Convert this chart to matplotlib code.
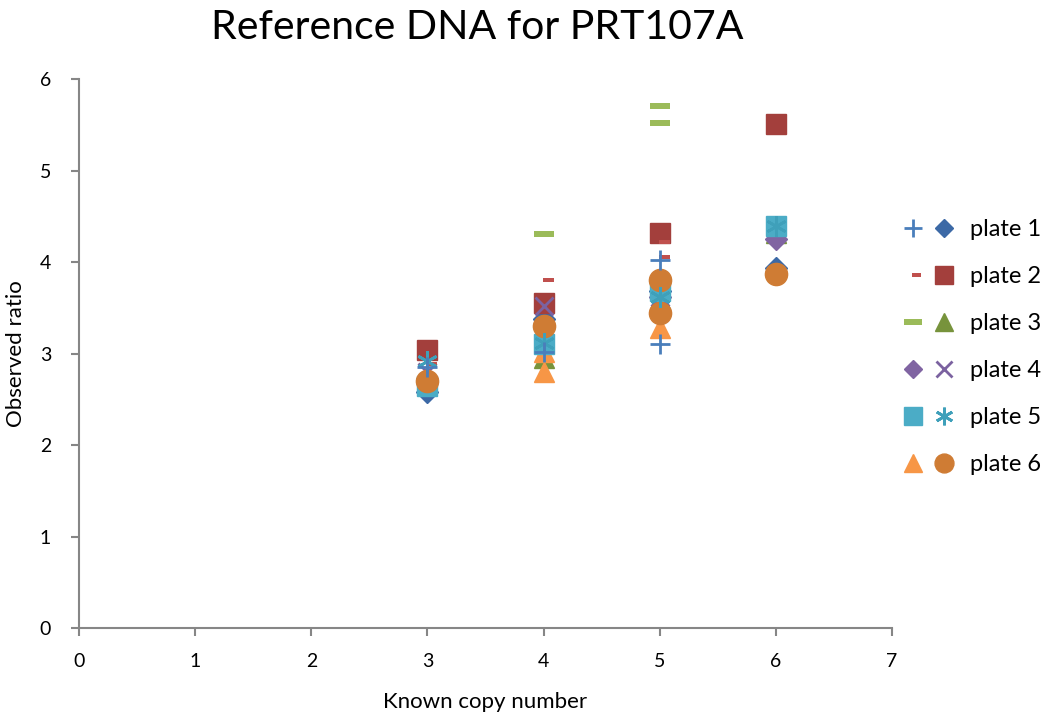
import matplotlib.pyplot as plt
from matplotlib.path import Path
from matplotlib.legend_handler import HandlerTuple

plt.rcParams['font.family'] = ['Lato', 'DejaVu Sans']

# known copy number (x) and observed ratio (y), two series per plate
p1a_x = [3, 4, 5, 5]
p1a_y = [2.85, 3.02, 4.02, 3.10]
p1b_x = [3, 4, 5, 6]
p1b_y = [2.58, 3.38, 3.68, 3.93]

p2a_x = [3, 4, 5, 5]
p2a_y = [2.88, 3.80, 4.22, 4.05]
p2b_x = [3, 4, 5, 6]
p2b_y = [3.04, 3.55, 4.32, 5.51]

p3a_x = [4, 5, 5]
p3a_y = [4.31, 5.70, 5.52]
p3b_x = [3, 4, 5, 6]
p3b_y = [2.70, 2.95, 3.60, 4.32]

p4a_x = [3, 4, 5, 6]
p4a_y = [2.72, 3.30, 3.62, 4.25]
p4b_x = [3, 4, 5, 6]
p4b_y = [2.80, 3.52, 3.62, 4.38]

p5a_x = [3, 4, 5, 6]
p5a_y = [2.65, 3.10, 3.68, 4.39]
p5b_x = [3, 4, 5, 6]
p5b_y = [2.92, 3.12, 3.62, 4.39]

p6a_x = [3, 4, 4, 5]
p6a_y = [2.72, 2.80, 3.02, 3.28]
p6b_x = [3, 4, 5, 5, 6]
p6b_y = [2.70, 3.30, 3.80, 3.44, 3.87]

labels = ['plate 1', 'plate 2', 'plate 3', 'plate 4', 'plate 5', 'plate 6']

# excel-style dash markers
short_dash = Path([(-0.1, -0.25), (1.0, -0.25), (1.0, 0.25), (-0.1, 0.25), (-0.1, -0.25)],
                  [Path.MOVETO, Path.LINETO, Path.LINETO, Path.LINETO, Path.CLOSEPOLY])
long_dash = Path([(-1, -0.3), (1, -0.3), (1, 0.3), (-1, 0.3), (-1, -0.3)],
                 [Path.MOVETO, Path.LINETO, Path.LINETO, Path.LINETO, Path.CLOSEPOLY])

fig = plt.figure(figsize=(10.56, 7.17), dpi=100)
ax = fig.add_axes([0.0748, 0.1241, 0.7699, 0.7657])

b1, = ax.plot(p1b_x, p1b_y, ls='none', marker='D', ms=11, color='#3C69A6', mec='#3C69A6')
b2, = ax.plot(p2b_x, p2b_y, ls='none', marker='s', ms=15, color='#A33F3C', mec='#A33F3C')
b3, = ax.plot(p3b_x, p3b_y, ls='none', marker='^', ms=15, color='#77933C', mec='#77933C')
b4, = ax.plot(p4b_x, p4b_y, ls='none', marker='x', ms=13, mew=2, color='#7B62A0')
b5, = ax.plot(p5b_x, p5b_y, ls='none', marker=(6, 2, 0), ms=15, mew=2, color='#3FA0BA', zorder=2.6)

a1, = ax.plot(p1a_x, p1a_y, ls='none', marker='+', ms=15, mew=2, color='#4A7EBB', zorder=2.6)
a2, = ax.plot(p2a_x, p2a_y, ls='none', marker=short_dash, ms=14, color='#C0504D', mec='#C0504D', mew=0)
a3, = ax.plot(p3a_x, p3a_y, ls='none', marker=long_dash, ms=14.5, color='#9BBB59', mec='#9BBB59', mew=0)
a4, = ax.plot(p4a_x, p4a_y, ls='none', marker='D', ms=11, color='#8064A2', mec='#8064A2')
a6, = ax.plot(p6a_x, p6a_y, ls='none', marker='^', ms=15, color='#F79646', mec='#F79646')
a5, = ax.plot(p5a_x, p5a_y, ls='none', marker='s', ms=15, color='#4BACC6', mec='#4BACC6')

# circles sit on top of the stack
b6, = ax.plot(p6b_x, p6b_y, ls='none', marker='o', ms=16, color='#CF7C34', mec='#CF7C34', zorder=2.5)

ax.set_xlim(0, 7)
ax.set_ylim(0, 6)
ax.set_xticks(range(0, 8))
ax.set_yticks(range(0, 7))

for s in ['top', 'right']:
    ax.spines[s].set_visible(False)
for s in ['left', 'bottom']:
    ax.spines[s].set_color('#868686')
    ax.spines[s].set_linewidth(1.5)
ax.tick_params(axis='both', direction='out', length=6, width=1.5, color='#868686',
               labelsize=14, labelcolor='black')
ax.tick_params(axis='x', pad=12)
ax.tick_params(axis='y', pad=14)

ax.set_xlabel('Known copy number', fontsize=16, labelpad=16)
ax.set_ylabel('Observed ratio', fontsize=16)
ax.yaxis.set_label_coords(-0.065, 0.5)

fig.text(0.452, 0.962, 'Reference DNA for PRT107A', fontsize=29.5, ha='center', va='center')

handles = [(a1, b1), (a2, b2), (a3, b3), (a4, b4), (a5, b5), (a6, b6)]
leg = ax.legend(handles, labels, handler_map={tuple: HandlerTuple(ndivide=None, pad=0)},
                loc='upper left', bbox_to_anchor=(1.0074, 0.745), frameon=False,
                borderaxespad=0, borderpad=0,
                fontsize=17, labelspacing=1.1, handlelength=2.6, handletextpad=0.45,
                markerscale=0.85)

fig.savefig('out.png', dpi=100)
